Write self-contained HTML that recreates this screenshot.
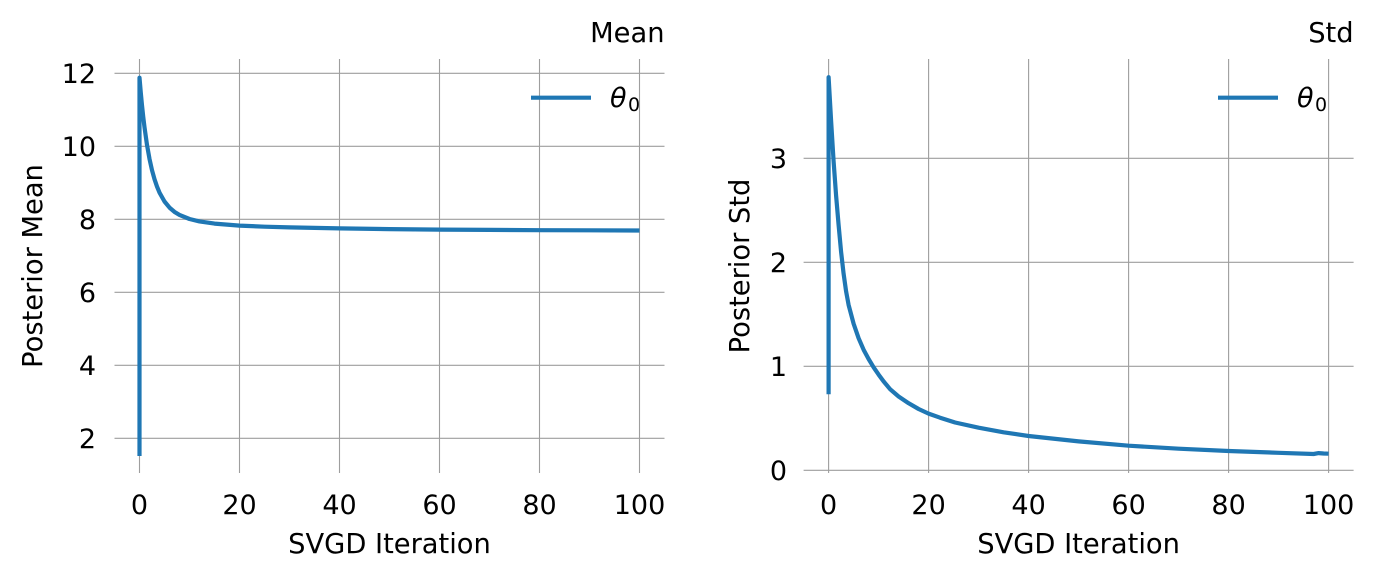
<!DOCTYPE html>
<html>
<head>
<meta charset="utf-8">
<style>
  html, body { margin: 0; padding: 0; background: #ffffff; }
  svg { display: block; }
  text { font-family: "DejaVu Sans", "Liberation Sans", sans-serif; fill: #000; }
</style>
</head>
<body>
<svg width="1374" height="580" viewBox="0 0 1374 580" xmlns="http://www.w3.org/2000/svg">
  <rect width="1374" height="580" fill="#ffffff"/>

  <!-- ============ LEFT PLOT (Mean) ============ -->
  <g stroke="#9e9e9e" stroke-width="1.1" fill="none">
    <line x1="139.5" y1="59" x2="139.5" y2="473"/>
    <line x1="239.5" y1="59" x2="239.5" y2="473"/>
    <line x1="339.5" y1="59" x2="339.5" y2="473"/>
    <line x1="439.5" y1="59" x2="439.5" y2="473"/>
    <line x1="539.5" y1="59" x2="539.5" y2="473"/>
    <line x1="639.5" y1="59" x2="639.5" y2="473"/>
    <line x1="114.5" y1="73.3" x2="664.5" y2="73.3"/>
    <line x1="114.5" y1="146.3" x2="664.5" y2="146.3"/>
    <line x1="114.5" y1="219.3" x2="664.5" y2="219.3"/>
    <line x1="114.5" y1="292.3" x2="664.5" y2="292.3"/>
    <line x1="114.5" y1="365.3" x2="664.5" y2="365.3"/>
    <line x1="114.5" y1="438.3" x2="664.5" y2="438.3"/>
  </g>

  <path fill="none" stroke="#1f77b4" stroke-width="4.2" stroke-linejoin="round" stroke-linecap="butt"
    d="M139.5,456 L139.5,77.7 L140.75,92.3 L142,105.3 L143.25,117.0 L144.5,127.3 L147,144.9 L149.5,158.9 L152,170.2 L154.5,179.2 L157,186.6 L159.5,192.6 L164.5,201.5 L169.5,207.6 L174.5,211.9 L179.5,214.9 L189.5,219.0 L199.5,221.4 L214.5,223.6 L239.5,225.6 L264.5,226.7 L289.5,227.4 L339.5,228.4 L389.5,229.1 L439.5,229.6 L489.5,229.9 L539.5,230.2 L589.5,230.3 L639.5,230.5"/>

  <!-- y tick labels -->
  <g font-size="27" text-anchor="end">
    <text x="96" y="83">12</text>
    <text x="96" y="156">10</text>
    <text x="96" y="229">8</text>
    <text x="96" y="302">6</text>
    <text x="96" y="375">4</text>
    <text x="96" y="448">2</text>
  </g>
  <!-- x tick labels -->
  <g font-size="27" text-anchor="middle">
    <text x="139.5" y="514">0</text>
    <text x="239.5" y="514">20</text>
    <text x="339.5" y="514">40</text>
    <text x="439.5" y="514">60</text>
    <text x="539.5" y="514">80</text>
    <text x="639.5" y="514">100</text>
  </g>
  <text x="389.5" y="553" font-size="27.3" text-anchor="middle">SVGD Iteration</text>
  <text transform="translate(42,266) rotate(-90)" font-size="27.3" text-anchor="middle">Posterior Mean</text>
  <text x="664.5" y="42" font-size="27.3" text-anchor="end">Mean</text>

  <!-- legend -->
  <line x1="531" y1="97.7" x2="591" y2="97.7" stroke="#1f77b4" stroke-width="4.2"/>
  <text x="610" y="107" font-size="27" font-style="italic">θ</text>
  <text x="628" y="111" font-size="19">0</text>

  <!-- ============ RIGHT PLOT (Std) ============ -->
  <g stroke="#9e9e9e" stroke-width="1.1" fill="none">
    <line x1="828.6" y1="59" x2="828.6" y2="473"/>
    <line x1="928.6" y1="59" x2="928.6" y2="473"/>
    <line x1="1028.6" y1="59" x2="1028.6" y2="473"/>
    <line x1="1128.6" y1="59" x2="1128.6" y2="473"/>
    <line x1="1228.6" y1="59" x2="1228.6" y2="473"/>
    <line x1="1328.6" y1="59" x2="1328.6" y2="473"/>
    <line x1="803.6" y1="158.3" x2="1353.6" y2="158.3"/>
    <line x1="803.6" y1="262.3" x2="1353.6" y2="262.3"/>
    <line x1="803.6" y1="366.3" x2="1353.6" y2="366.3"/>
    <line x1="803.6" y1="470.3" x2="1353.6" y2="470.3"/>
  </g>

  <path fill="none" stroke="#1f77b4" stroke-width="4.2" stroke-linejoin="round" stroke-linecap="butt"
    d="M828.6,394.3 L828.6,77.2 L831.1,120.9 L833.6,161.4 L836.1,195.7 L838.6,224.9 L841.1,251.9 L843.6,273.7 L846.1,291.4 L848.6,304.9 L853.6,323.7 L858.6,338.2 L863.6,349.7 L868.6,359.0 L873.6,367.3 L878.6,374.6 L883.6,381.4 L890.1,389.2 L898.6,396.5 L908.6,403.2 L918.6,409.0 L928.6,413.6 L940.1,417.7 L955.1,422.5 L978.6,427.7 L1003.6,432.3 L1028.6,436.0 L1078.6,441.4 L1128.6,445.7 L1178.6,448.7 L1228.6,451.0 L1278.6,452.8 L1313.6,454.0 L1318.6,453.1 L1323.6,453.5 L1328.6,453.7"/>

  <!-- y tick labels -->
  <g font-size="27" text-anchor="end">
    <text x="787" y="168">3</text>
    <text x="787" y="272">2</text>
    <text x="787" y="376">1</text>
    <text x="787" y="480">0</text>
  </g>
  <!-- x tick labels -->
  <g font-size="27" text-anchor="middle">
    <text x="828.6" y="514">0</text>
    <text x="928.6" y="514">20</text>
    <text x="1028.6" y="514">40</text>
    <text x="1128.6" y="514">60</text>
    <text x="1228.6" y="514">80</text>
    <text x="1328.6" y="514">100</text>
  </g>
  <text x="1078.6" y="553" font-size="27.3" text-anchor="middle">SVGD Iteration</text>
  <text transform="translate(749,266) rotate(-90)" font-size="27.3" text-anchor="middle">Posterior Std</text>
  <text x="1353.6" y="42" font-size="27.3" text-anchor="end">Std</text>

  <!-- legend -->
  <line x1="1218" y1="97.7" x2="1278" y2="97.7" stroke="#1f77b4" stroke-width="4.2"/>
  <text x="1297" y="107" font-size="27" font-style="italic">θ</text>
  <text x="1315" y="111" font-size="19">0</text>
</svg>
</body>
</html>
